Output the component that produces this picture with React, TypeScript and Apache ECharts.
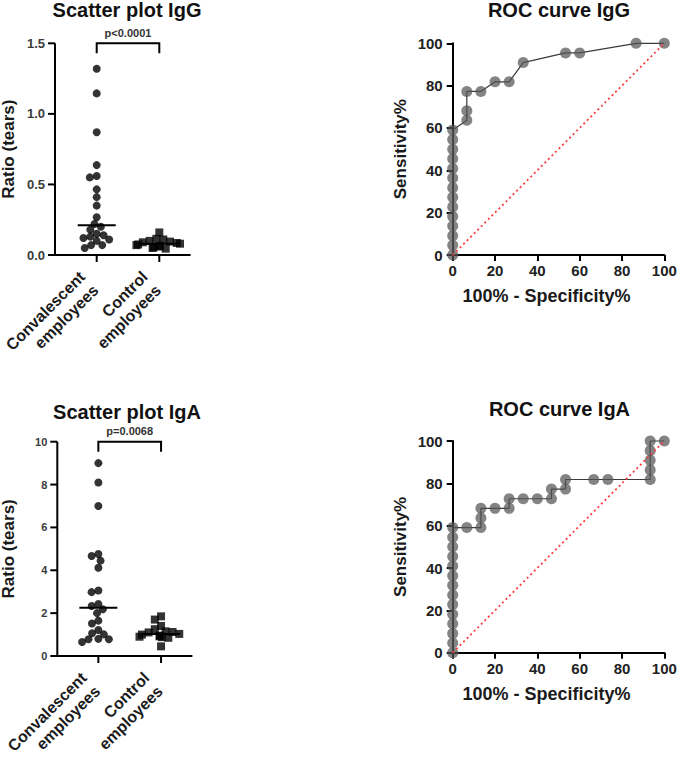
import React, { useEffect, useRef } from 'react';
import * as echarts from 'echarts';

// ---------- data ----------
const groups = ['Convalescent\nemployees', 'Control\nemployees'];

const iggConvalescent = [1.32, 1.145, 0.87, 0.637, 0.56, 0.55, 0.465, 0.41, 0.35, 0.267, 0.22, 0.2, 0.18, 0.15, 0.14, 0.13, 0.12, 0.11, 0.1, 0.07, 0.07, 0.05];
const iggControl = [0.16, 0.115, 0.11, 0.1, 0.095, 0.09, 0.085, 0.08, 0.075, 0.07, 0.065, 0.06, 0.055, 0.05, 0.045];
const igaConvalescent = [9.0, 8.1, 7.0, 4.76, 4.67, 4.45, 4.12, 3.06, 2.98, 2.43, 2.33, 2.18, 2.0, 1.65, 1.52, 1.21, 1.06, 1.01, 0.8, 0.78, 0.78, 0.65];
const igaControl = [1.85, 1.7, 1.4, 1.25, 1.15, 1.12, 1.1, 1.03, 1.0, 0.95, 0.92, 0.9, 0.88, 0.85, 0.45];

const iggTicks = [0, 0.5, 1.0, 1.5];
const igaTicks = [0, 2, 4, 6, 8, 10];

const iggPValue = 'p<0.0001';
const igaPValue = 'p=0.0068';

const rocIggFpr = [0, 0, 0, 0, 0, 0, 0, 0, 0, 0, 0, 0, 0, 0, 6.67, 6.67, 6.67, 13.33, 20, 26.67, 33.33, 53.33, 60, 86.67, 100];
const rocIggSens = [0, 4.55, 9.09, 13.64, 18.18, 22.73, 27.27, 31.82, 36.36, 40.91, 45.45, 50, 54.55, 59.09, 63.64, 68.18, 77.27, 77.27, 81.82, 81.82, 90.91, 95.45, 95.45, 100, 100];

const rocIgaFpr = [0, 0, 0, 0, 0, 0, 0, 0, 0, 0, 0, 0, 0, 0, 6.67, 13.33, 13.33, 13.33, 20, 26.67, 26.67, 33.33, 40, 46.67, 46.67, 53.33, 53.33, 66.67, 73.33, 93.33, 93.33, 93.33, 93.33, 93.33, 100];
const rocIgaSens = [0, 4.55, 9.09, 13.64, 18.18, 22.73, 27.27, 31.82, 36.36, 40.91, 45.45, 50, 54.55, 59.09, 59.09, 59.09, 63.64, 68.18, 68.18, 68.18, 72.73, 72.73, 72.73, 72.73, 77.27, 77.27, 81.82, 81.82, 81.82, 81.82, 86.36, 90.91, 95.45, 100, 100];

const chanceX = [0, 100];
const chanceY = [0, 100];

const titles = ['Scatter plot IgG', 'ROC curve IgG', 'Scatter plot IgA', 'ROC curve IgA'];

// ---------- helpers ----------
const FONT = "'Liberation Sans', Arial, Helvetica, sans-serif";

function median(arr: number[]): number {
  const s = [...arr].sort((a, b) => a - b);
  const n = s.length;
  return n % 2 ? s[(n - 1) / 2] : (s[n / 2 - 1] + s[n / 2]) / 2;
}

const axisLineStyle = () => ({ show: true, onZero: false, lineStyle: { color: '#000', width: 2 } });
const axisTickStyle = (length: number) => ({ show: true, length, lineStyle: { color: '#000', width: 2 } });

function scatterXAxis(gridIndex: number, withJitter: boolean) {
  const base: any = {
    type: 'category',
    gridIndex,
    data: groups,
    axisLine: { show: false },
    axisTick: { show: false },
    splitLine: { show: false },
  };
  if (withJitter) {
    base.jitter = 46;
    base.jitterOverlap = false;
    base.jitterMargin = -1;
    base.axisLabel = {
      rotate: 45,
      margin: 18,
      padding: [0, 11, 0, 0],
      fontSize: 16,
      fontWeight: 'bold',
      lineHeight: 19,
      color: '#1a1a1a',
      fontFamily: FONT,
    };
  } else {
    base.axisLabel = { show: false };
  }
  return base;
}

function frameXAxis(gridIndex: number) {
  return {
    type: 'value',
    gridIndex,
    min: 0,
    max: 1,
    axisLine: { show: false },
    axisTick: { show: false },
    axisLabel: { show: false },
    splitLine: { show: false },
  };
}

function hiddenYAxis(gridIndex: number, max: number) {
  return { type: 'value', gridIndex, min: 0, max, show: false, splitLine: { show: false } };
}

function frameYAxis(gridIndex: number, max: number, interval: number, fontSize: number, nameGap: number, decimals: number) {
  return {
    type: 'value',
    gridIndex,
    min: 0,
    max,
    interval,
    name: 'Ratio (tears)',
    nameLocation: 'middle',
    nameGap,
    nameTextStyle: { fontSize: 17, fontWeight: 'bold', color: '#1a1a1a', fontFamily: FONT },
    axisLine: { show: false },
    axisTick: { show: false },
    axisLabel: {
      fontSize,
      fontWeight: 'bold',
      color: '#3a3a3a',
      margin: 10,
      fontFamily: FONT,
      formatter: (v: number) => v.toFixed(decimals),
    },
    splitLine: { show: false },
  };
}

function rocXAxis(gridIndex: number) {
  return {
    type: 'value',
    gridIndex,
    min: 0,
    max: 100,
    interval: 20,
    name: '100% - Specificity%',
    nameLocation: 'middle',
    nameGap: 32,
    nameTextStyle: { fontSize: 18, fontWeight: 'bold', color: '#1a1a1a', fontFamily: FONT, padding: [0, 24, 0, 0] },
    axisLine: axisLineStyle(),
    axisTick: axisTickStyle(6),
    axisLabel: { fontSize: 15, fontWeight: 'bold', color: '#222', margin: 8, fontFamily: FONT },
    splitLine: { show: false },
  };
}

function rocYAxis(gridIndex: number) {
  return {
    type: 'value',
    gridIndex,
    min: 0,
    max: 100,
    interval: 20,
    name: 'Sensitivity%',
    nameLocation: 'middle',
    nameGap: 44,
    nameTextStyle: { fontSize: 17, fontWeight: 'bold', color: '#1a1a1a', fontFamily: FONT },
    axisLine: axisLineStyle(),
    axisTick: axisTickStyle(6),
    axisLabel: { fontSize: 15, fontWeight: 'bold', color: '#222', margin: 10, fontFamily: FONT },
    splitLine: { show: false },
  };
}

function medianSeries(axisIndex: number, a: number[], b: number[]) {
  return {
    type: 'custom',
    xAxisIndex: axisIndex,
    yAxisIndex: axisIndex,
    clip: false,
    z: 1,
    data: [[0, median(a)], [1, median(b)]],
    renderItem: (params: any, api: any) => {
      const p = api.coord([api.value(0), api.value(1)]);
      return {
        type: 'line',
        shape: { x1: p[0] - 19, y1: p[1], x2: p[0] + 19, y2: p[1] },
        style: { stroke: '#000', lineWidth: 2 },
      };
    },
  };
}

function bracketSeries(axisIndex: number, top: number, bottom: number, label: string) {
  return {
    type: 'custom',
    xAxisIndex: axisIndex,
    yAxisIndex: axisIndex,
    clip: false,
    z: 3,
    data: [[0, 1, top, bottom]],
    renderItem: (params: any, api: any) => {
      const a = api.coord([api.value(0), api.value(2)]);
      const b = api.coord([api.value(1), api.value(2)]);
      const yb = api.coord([api.value(0), api.value(3)])[1];
      return {
        type: 'group',
        children: [
          {
            type: 'polyline',
            shape: { points: [[a[0], yb], [a[0], a[1]], [b[0], b[1]], [b[0], yb]] },
            style: { stroke: '#000', lineWidth: 2, fill: 'none' },
          },
          {
            type: 'text',
            x: (a[0] + b[0]) / 2,
            y: a[1] - 5,
            style: {
              text: label,
              fontSize: 11,
              fontWeight: 'bold',
              fontFamily: FONT,
              fill: '#333',
              align: 'center',
              verticalAlign: 'bottom',
            },
          },
        ],
      };
    },
  };
}

function dotSeries(axisIndex: number, catIndex: number, values: number[], symbol: string) {
  return {
    type: 'scatter',
    xAxisIndex: axisIndex,
    yAxisIndex: axisIndex,
    symbol,
    symbolSize: 8,
    z: 2,
    itemStyle: { color: '#000' },
    data: values.map((v) => [catIndex, v]),
  };
}

function rocSeries(axisIndex: number, xs: number[], ys: number[]) {
  return {
    type: 'line',
    xAxisIndex: axisIndex,
    yAxisIndex: axisIndex,
    clip: false,
    symbol: 'circle',
    symbolSize: 11,
    showSymbol: true,
    z: 2,
    itemStyle: { color: 'rgba(85,85,85,0.72)', borderWidth: 0 },
    lineStyle: { color: '#3a3a3a', width: 1.2 },
    data: xs.map((x, i) => [x, ys[i]]),
  };
}

function chanceSeries(axisIndex: number) {
  return {
    type: 'line',
    xAxisIndex: axisIndex,
    yAxisIndex: axisIndex,
    symbol: 'none',
    z: 4,
    lineStyle: { color: '#ff3b3b', width: 1.8, type: [2, 3] },
    data: chanceX.map((x, i) => [x, chanceY[i]]),
  };
}

function titleText(text: string, x: number, y: number) {
  return {
    type: 'text',
    x,
    y,
    style: {
      text,
      fontSize: 20,
      fontWeight: 'bold',
      fontFamily: FONT,
      fill: '#111',
      align: 'center',
      verticalAlign: 'middle',
    },
  };
}

function gLine(x1: number, y1: number, x2: number, y2: number) {
  return {
    type: 'line',
    z: 100,
    silent: true,
    shape: { x1, y1, x2, y2 },
    style: { stroke: '#000', lineWidth: 2 },
  };
}

// Axis lines and ticks of a scatter panel, positioned through the chart's own scales.
function scatterFrame(chart: any, frameAxis: number, catAxis: number, ticks: number[], max: number) {
  const fr = { xAxisIndex: frameAxis, yAxisIndex: frameAxis };
  const ca = { xAxisIndex: catAxis, yAxisIndex: catAxis };
  const o = chart.convertToPixel(fr, [0, 0]);
  const t = chart.convertToPixel(fr, [0, max]);
  const r = chart.convertToPixel(fr, [1, 0]);
  const els: any[] = [gLine(o[0], o[1] + 1, t[0], t[1]), gLine(o[0] - 1, o[1], r[0], r[1])];
  ticks.forEach((v) => {
    const p = chart.convertToPixel(fr, [0, v]);
    els.push(gLine(p[0] - 7, p[1], p[0], p[1]));
  });
  groups.forEach((_, i) => {
    const p = chart.convertToPixel(ca, [i, 0]);
    els.push(gLine(p[0], p[1], p[0], p[1] + 7));
  });
  return els;
}

export default function App() {
  const ref = useRef<HTMLDivElement>(null);

  useEffect(() => {
    document.body.style.margin = '0';
    if (!ref.current) return;
    const chart = echarts.init(ref.current, null, { renderer: 'svg' });

    const g = (left: number, top: number, width: number, height: number) => ({
      left,
      top,
      width,
      height,
      outerBoundsMode: 'none',
      containLabel: false,
    });

    const titleGraphics = [
      titleText(titles[0], 127, 10),
      titleText(titles[1], 559, 10),
      titleText(titles[2], 127, 412),
      titleText(titles[3], 559.5, 408.5),
    ];

    const option: any = {
      animation: false,
      backgroundColor: '#fff',
      grid: [
        g(65.4, 43.3, 125.2, 211.7),
        g(452.7, 43.3, 211.6, 211.7),
        g(67, 441.7, 125.4, 214.3),
        g(452.7, 441, 211.6, 211.7),
        g(55, 43.3, 135.6, 211.7),
        g(57.3, 441.7, 135.1, 214.3),
        g(65.4, 43.3, 125.2, 211.7),
        g(67, 441.7, 125.4, 214.3),
      ],
      xAxis: [
        scatterXAxis(0, true),
        rocXAxis(1),
        scatterXAxis(2, true),
        rocXAxis(3),
        frameXAxis(4),
        frameXAxis(5),
        scatterXAxis(6, false),
        scatterXAxis(7, false),
      ],
      yAxis: [
        hiddenYAxis(0, 1.5),
        rocYAxis(1),
        hiddenYAxis(2, 10),
        rocYAxis(3),
        frameYAxis(4, 1.5, 0.5, 13, 38, 1),
        frameYAxis(5, 10, 2, 11, 40, 0),
        hiddenYAxis(6, 1.5),
        hiddenYAxis(7, 10),
      ],
      series: [
        medianSeries(0, iggConvalescent, iggControl),
        dotSeries(0, 0, iggConvalescent, 'circle'),
        dotSeries(0, 1, iggControl, 'rect'),
        bracketSeries(0, 1.5, 1.43, iggPValue),
        rocSeries(1, rocIggFpr, rocIggSens),
        chanceSeries(1),
        medianSeries(2, igaConvalescent, igaControl),
        dotSeries(2, 0, igaConvalescent, 'circle'),
        dotSeries(2, 1, igaControl, 'rect'),
        bracketSeries(2, 10, 9.53, igaPValue),
        rocSeries(3, rocIgaFpr, rocIgaSens),
        chanceSeries(3),
      ],
      graphic: titleGraphics,
    };

    chart.setOption(option);

    const frames = [
      ...scatterFrame(chart, 4, 6, iggTicks, 1.5),
      ...scatterFrame(chart, 5, 7, igaTicks, 10),
    ];
    chart.setOption({ graphic: [...titleGraphics, ...frames] }, { replaceMerge: ['graphic'] });

    return () => chart.dispose();
  }, []);

  return <div ref={ref} style={{ width: 678, height: 757 }} />;
}
